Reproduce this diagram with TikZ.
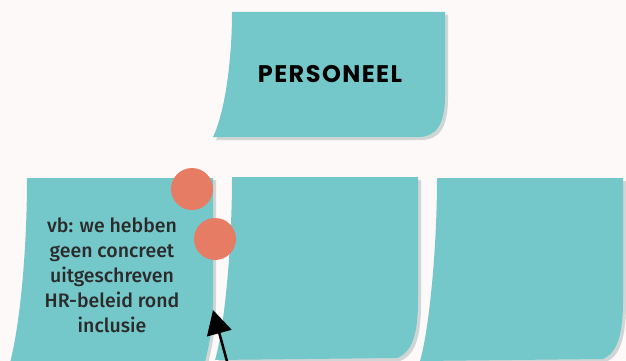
\documentclass[tikz,border=0pt]{standalone}
\usepackage{fontspec}
\usetikzlibrary{arrows.meta}
\newfontfamily\titlefont{Poppins}[LetterSpace=6]
\newfontfamily\notefont{Fira Sans}[UprightFont={* Medium}]
\definecolor{bgc}{HTML}{FDF9F8}
\definecolor{notec}{HTML}{74C8CA}
\definecolor{shadowc}{HTML}{CFD6D5}
\definecolor{pinc}{HTML}{E77C64}
\definecolor{textc}{HTML}{2B2B2B}
\tikzset{
  note/.style={fill=notec},
  shadow/.style={fill=shadowc},
  pin/.style={circle, fill=pinc, minimum size=42pt, inner sep=0pt},
  arrowline/.style={line width=2.5pt, -{Triangle[length=24pt,width=25pt]}},
}
\begin{document}
\begin{tikzpicture}[x=1pt,y=-1pt]
\fill[bgc] (0,0) rectangle (626,361);
\useasboundingbox (0,0) rectangle (626,361);
\begin{scope}
\clip (0,0) rectangle (626,361);
% top note
\def\topnote{(232,12) -- (445,12) -- (445,95) .. controls (445,125) and (436,137) .. (418,137) -- (213,137) .. controls (225,112) and (232,60) .. (232,12) -- cycle}
\fill[shadow, shift={(3,3)}] \topnote;
\fill[note] \topnote;
% note 1
\def\noteA{(27,178) -- (213,178) -- (213,300) .. controls (213,330) and (208,350) .. (203,370) -- (8,370) .. controls (20,330) and (27,250) .. (27,178) -- cycle}
\fill[shadow, shift={(3,2)}] \noteA;
\fill[note] \noteA;
% note 2
\def\noteB{(232,177) -- (418,177) -- (418,300) .. controls (418,335) and (412,352) .. (397,358) -- (215,360) .. controls (224,330) and (232,250) .. (232,177) -- cycle}
\fill[shadow, shift={(3,3)}] \noteB;
\fill[note] \noteB;
% note 3
\def\noteC{(437,178) -- (623,178) -- (623,300) .. controls (623,335) and (617,353) .. (603,359) -- (420,361) .. controls (429,330) and (437,250) .. (437,178) -- cycle}
\fill[shadow, shift={(3,3)}] \noteC;
\fill[note] \noteC;
\end{scope}
\node (title) at (330,74) {\titlefont\bfseries\fontsize{24}{28}\selectfont PERSONEEL};
\node (txt) at (112,275.5) [align=center, text=textc, font=\notefont\fontsize{19.5}{25}\selectfont]
  {vb: we hebben\\geen concreet\\uitgeschreven\\HR-beleid rond\\inclusie};
\node[pin] (pinA) at (192,189) {};
\node[pin] (pinB) at (215,239) {};
\coordinate (arrowstart) at (228,365);
\coordinate (arrowtip) at (213,310);
\draw[arrowline] (arrowstart) -- (arrowtip);
\end{tikzpicture}
\end{document}
